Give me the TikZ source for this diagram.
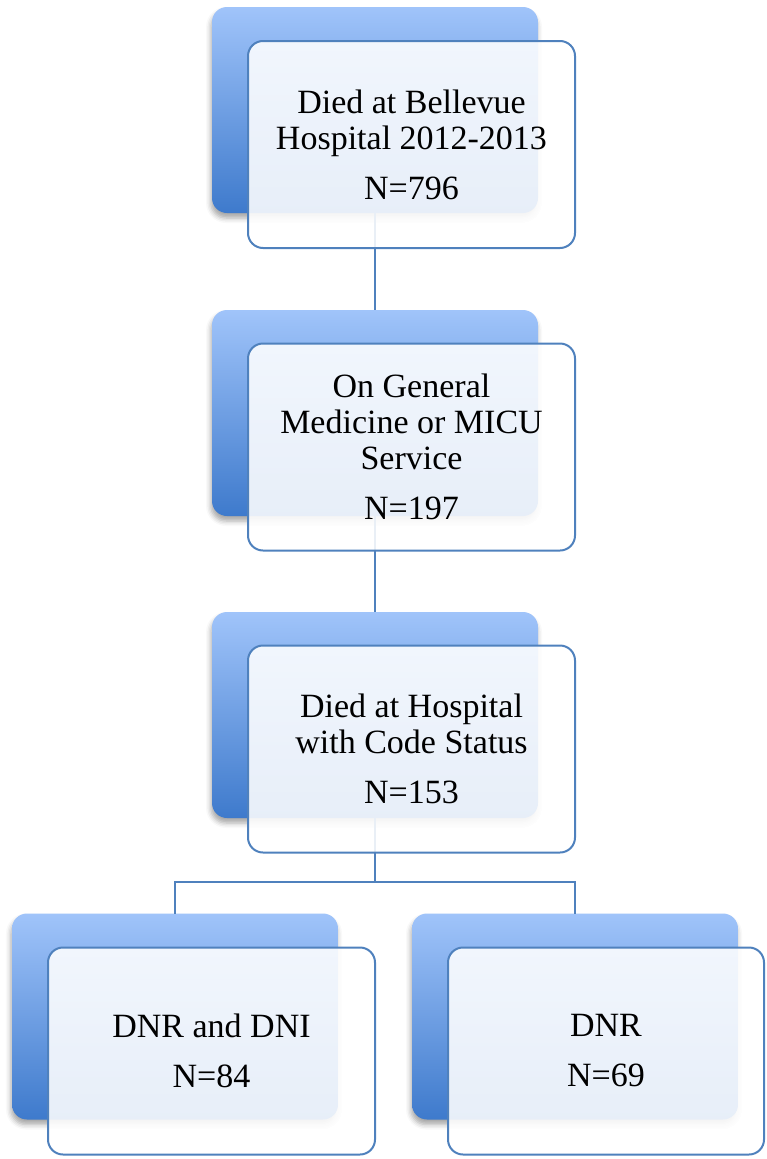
\documentclass[tikz,border=0pt]{standalone}
\usepackage{fontspec}
\setmainfont{Liberation Serif}
\usetikzlibrary{shadows.blur}
\definecolor{boxline}{RGB}{79,129,189}
\definecolor{backtop}{RGB}{160,196,250}
\definecolor{backbottom}{RGB}{62,122,204}
\tikzset{
  backbox/.style={rounded corners=15pt, minimum width=326pt, minimum height=206pt,
    top color=backtop, bottom color=backbottom, draw=none, inner sep=0pt, outer sep=0pt,
    blur shadow={shadow xshift=-1pt, shadow yshift=-5pt, shadow blur radius=5pt, shadow opacity=35}},
  frontbox/.style={rounded corners=15pt, minimum width=327pt, minimum height=207pt,
    draw=boxline, line width=2pt, fill=white, fill opacity=0.88, text opacity=1,
    align=center, font=\fontsize{34}{36}\selectfont, inner sep=0pt, outer sep=0pt},
  link/.style={draw=boxline, line width=2pt}
}
\begin{document}
\begin{tikzpicture}[x=1pt, y=-1pt]
\useasboundingbox (0,0) rectangle (766,1159);
% back boxes
\node(back1) at (375, 110) [backbox] {};
\node(back2) at (375, 413) [backbox] {};
\node(back3) at (375, 715) [backbox] {};
\node(back4) at (175, 1016.5) [backbox] {};
\node(back5) at (575, 1016.5) [backbox] {};
% connectors
\coordinate(split) at (375, 882);
\draw[link] (back1.south) -- (back2.north);
\draw[link] (back2.south) -- (back3.north);
\draw[link] (back3.south) -- (split);
\draw[link] (back4.north) |- (split) -| (back5.north);
% front boxes
\node(died) at (411.5, 144.5) [frontbox] {Died at Bellevue\\Hospital 2012-2013\\[14pt]N=796};
\node(service) at (411.5, 447) [frontbox] {On General\\Medicine or MICU\\Service\\[14pt]N=197};
\node(status) at (411.5, 749) [frontbox] {Died at Hospital\\with Code Status\\[14pt]N=153};
\node(dnrdni) at (211.5, 1051) [frontbox] {DNR and DNI\\[14pt]N=84};
\node(dnr) at (606, 1051) [frontbox, minimum width=316pt] {DNR\\[14pt]N=69};
\end{tikzpicture}
\end{document}
